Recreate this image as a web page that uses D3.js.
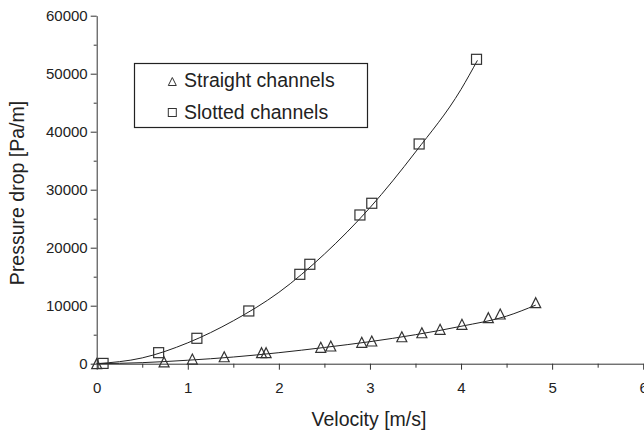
<!DOCTYPE html>
<html lang="en">
<head>
<meta charset="utf-8">
<script src="https://d3js.org/d3.v7.min.js"></script>
<style>
  html, body { margin: 0; padding: 0; background: #fff; }
  body { font-family: "Liberation Sans", Arial, Helvetica, sans-serif; }
  .axis text { font-size: 15px; fill: #222; font-family: "Liberation Sans", Arial, sans-serif; }
  .axis line, .axis path { stroke: #333; stroke-width: 1; fill: none; }
  .title { font-size: 19.5px; fill: #222; }
</style>
</head>
<body>
<script>
// measured points - slotted channels (squares)
var slottedV = [0.07, 0.68, 1.10, 1.67, 2.23, 2.34, 2.89, 3.02, 3.54, 4.17];
var slottedP = [50, 1900, 4380, 9090, 15410, 17140, 25640, 27660, 37880, 52480];

// measured points - straight channels (triangles)
var straightV = [0.00, 0.74, 1.05, 1.40, 1.81, 1.86, 2.46, 2.57, 2.91, 3.02, 3.35, 3.57, 3.77, 4.01, 4.30, 4.43, 4.82];
var straightP = [0, 300, 800, 1200, 1900, 1900, 2830, 3050, 3690, 3910, 4650, 5340, 5930, 6790, 7930, 8570, 10520];

// fitted curves
var slottedFitV = [0, 0.5, 1.0, 1.5, 2.0, 2.5, 3.0, 3.5, 4.0, 4.18];
var slottedFitP = [0, 1000, 3600, 7400, 12300, 18900, 26900, 36500, 47300, 52300];
var straightFitV = [0, 0.5, 1.0, 1.5, 2.0, 2.5, 3.0, 3.5, 4.0, 4.5, 4.82];
var straightFitP = [0, 180, 600, 1150, 1900, 2800, 3800, 5000, 6450, 8200, 10100];

var xTicks = [0, 1, 2, 3, 4, 5, 6];
var yTicks = [0, 10000, 20000, 30000, 40000, 50000, 60000];
var legendLabels = ["Straight channels", "Slotted channels"];

var width = 644, height = 432;
var x0 = 96.7, x1 = 643.2, yTop = 15.7, yBot = 363.7;

var svg = d3.select("body").append("svg")
    .attr("width", width)
    .attr("height", height);

var x = d3.scaleLinear().domain([0, 6]).range([x0, x1]);
var y = d3.scaleLinear().domain([0, 60000]).range([yBot, yTop]);

// minor ticks
svg.append("g")
    .attr("class", "axis")
    .attr("transform", "translate(0," + yBot + ")")
    .call(d3.axisBottom(x).tickValues(d3.range(0.5, 6, 1)).tickSize(4).tickFormat("").tickSizeOuter(0))
    .select(".domain").remove();
svg.append("g")
    .attr("class", "axis")
    .attr("transform", "translate(" + x0 + ",0)")
    .call(d3.axisLeft(y).tickValues(d3.range(5000, 60000, 10000)).tickSize(3).tickFormat("").tickSizeOuter(0))
    .select(".domain").remove();

// major axes
svg.append("g")
    .attr("class", "axis")
    .attr("transform", "translate(0," + yBot + ")")
    .call(d3.axisBottom(x).tickValues(xTicks).tickSize(6).tickSizeOuter(0).tickPadding(12.5).tickFormat(d3.format("d")));
svg.append("g")
    .attr("class", "axis")
    .attr("transform", "translate(" + x0 + ",0)")
    .call(d3.axisLeft(y).tickValues(yTicks).tickSize(6).tickSizeOuter(0).tickPadding(3).tickFormat(d3.format("d")));

// axis titles
svg.append("text")
    .attr("class", "title")
    .attr("x", 369).attr("y", 426)
    .attr("text-anchor", "middle")
    .text("Velocity [m/s]");
svg.append("text")
    .attr("class", "title")
    .attr("transform", "translate(24,193) rotate(-90)")
    .attr("text-anchor", "middle")
    .text("Pressure drop [Pa/m]");

// fit lines
var line = d3.line()
    .x(function(d) { return x(d[0]); })
    .y(function(d) { return y(d[1]); })
    .curve(d3.curveMonotoneX);

svg.append("path")
    .datum(d3.zip(slottedFitV, slottedFitP))
    .attr("d", line)
    .attr("fill", "none").attr("stroke", "#222").attr("stroke-width", 1);
svg.append("path")
    .datum(d3.zip(straightFitV, straightFitP))
    .attr("d", line)
    .attr("fill", "none").attr("stroke", "#222").attr("stroke-width", 1);

function triPath(cx, cy, s) {
  return "M" + cx + "," + (cy - s) + "L" + (cx + s) + "," + (cy + s) + "L" + (cx - s) + "," + (cy + s) + "Z";
}

// markers
svg.append("g").selectAll("rect")
    .data(d3.zip(slottedV, slottedP))
    .enter().append("rect")
    .attr("x", function(d) { return x(d[0]) - 5; })
    .attr("y", function(d) { return y(d[1]) - 5; })
    .attr("width", 10).attr("height", 10)
    .attr("fill", "none").attr("stroke", "#333").attr("stroke-width", 1.2);

svg.append("g").selectAll("path")
    .data(d3.zip(straightV, straightP))
    .enter().append("path")
    .attr("d", function(d) { return triPath(x(d[0]), y(d[1]), 5); })
    .attr("fill", "none").attr("stroke", "#333").attr("stroke-width", 1.2);

// legend
var legend = svg.append("g");
legend.append("rect")
    .attr("x", 134.5).attr("y", 63.5).attr("width", 233).attr("height", 64)
    .attr("fill", "none").attr("stroke", "#222").attr("stroke-width", 1.2);
legend.append("path")
    .attr("d", triPath(172.3, 81.5, 4))
    .attr("fill", "none").attr("stroke", "#333").attr("stroke-width", 1);
legend.append("rect")
    .attr("x", 168.3).attr("y", 108.5).attr("width", 8).attr("height", 8)
    .attr("fill", "none").attr("stroke", "#333").attr("stroke-width", 1);
legend.selectAll("text.lg")
    .data(legendLabels)
    .enter().append("text")
    .attr("class", "title lg")
    .attr("x", 184)
    .attr("y", function(d, i) { return 87 + i * 31.5; })
    .text(function(d) { return d; });
</script>
</body>
</html>
